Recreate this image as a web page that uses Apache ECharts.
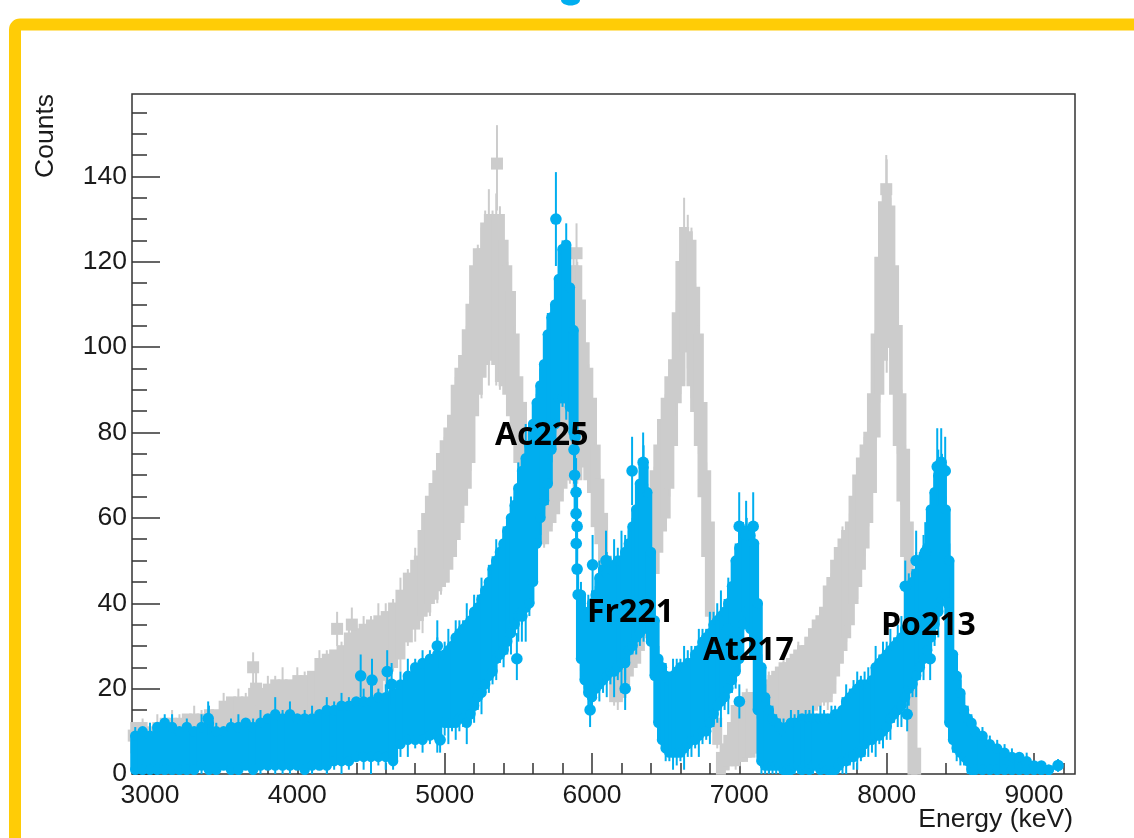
<!DOCTYPE html>
<html>
<head>
<meta charset="utf-8">
<style>html,body{margin:0;padding:0;background:#fff}#c{width:1134px;height:838px}</style>
<script src="https://cdn.jsdelivr.net/npm/echarts@6/dist/echarts.min.js"></script>
</head>
<body>
<div id="c"></div>
<script>
// [energy keV, band low, band high, error bar]
const grayBand = [
[2900,6,11,1],[2950,5,11,2],[3000,4,10,2],[3050,4,11,3],[3100,5,12,1],[3150,5,12,3],[3200,5,12,2],[3250,5,13,1],[3300,5,13,3],[3350,6,13,2],
[3400,6,14,2],[3450,6,14,1],[3500,7,16,3],[3550,7,17,1],[3600,7,17,3],[3650,8,17,2],[3700,8,19,1],[3750,8,19,2],[3800,8,20,3],[3850,9,21,2],
[3900,9,21,4],[3950,9,21,1],[4000,9,22,3],[4050,10,22,2],[4100,11,23,1],[4150,11,26,3],[4200,12,27,2],[4250,12,28,1],[4300,13,29,2],[4350,14,32,4],
[4400,14,33,2],[4450,15,34,3],[4500,16,35,2],[4550,20,36,4],[4600,23,37,3],[4650,26,39,2],[4700,28,42,4],[4750,32,46,2],[4800,35,49,4],
[4825,37,50,3],[4850,38,56,5],[4875,39,60,2],[4900,41,64,4],[4925,42,67,1],[4950,44,70,4],[4975,45,74,3],[5000,46,77,2],[5025,49,80,4],[5050,52,83,2],
[5075,56,90,3],[5100,60,94,1],[5125,64,97,4],[5150,68,103,2],[5175,74,109,3],[5200,85,118,1],[5225,90,122,2],[5250,94,122,6],[5275,97,128,4],[5300,98,130,7],
[5325,99,130,2],[5350,97,130,6],[5375,93,130,3],[5400,92,124,1],[5425,90,118,2],[5450,85,112,1],[5475,80,102,3],[5500,74,92,1],[5525,70,86,2],[5550,65,80,1],
[5575,62,76,2],[5600,58,73,1],[5625,55,72,2],[5650,55,72,1],[5675,55,74,2],[5700,58,80,2],[5725,60,88,2],[5750,62,95,1],[5775,65,102,2],[5800,68,108,2],
[5825,70,112,1],[5850,70,116,2],[5875,70,118,3],[5900,70,118,2],[5925,75,110,2],[5950,73,100,1],[5975,70,94,2],[6000,67,87,1],[6025,59,76,2],[6050,55,68,2],
[6075,50,60,1],[6100,38,50,2],[6125,24,40,3],[6150,18,30,2],[6175,18,28,3],[6200,19,26,2],[6225,22,30,1],[6250,24,34,2],[6275,26,38,1],[6300,27,42,2],
[6325,30,46,1],[6350,33,52,2],[6375,36,60,1],[6400,42,66,3],[6425,48,70,2],[6450,53,76,1],[6475,58,82,3],[6500,61,87,2],[6525,68,92,3],[6550,78,96,1],
[6575,88,107,4],[6600,92,119,3],[6625,100,127,8],[6650,100,126,5],[6675,92,124,4],[6700,86,113,2],[6725,78,102,3],[6750,66,86,1],[6775,52,70,3],[6800,38,58,2],
[6825,30,36,3],[6850,8,12,2],[6875,1,4,1],[6900,2,6,1],[6925,3,8,2],[6950,3,11,1],[6975,3,15,2],[7000,4,16,2],[7025,4,17,1],[7050,5,18,2],
[7075,5,18,1],[7100,6,18,2],[7125,6,18,2],[7150,7,18,1],[7175,8,20,2],[7200,10,21,3],[7225,10,22,1],[7250,11,23,2],[7275,11,24,1],[7300,12,25,3],
[7325,12,25,2],[7350,13,26,1],[7375,13,27,2],[7400,14,28,3],[7425,14,29,1],[7450,15,29,3],[7475,15,31,2],[7500,16,33,2],[7525,17,35,1],[7550,18,36,3],
[7575,18,38,2],[7600,18,43,3],[7625,20,45,2],[7650,24,49,3],[7675,27,52,1],[7700,30,54,4],[7725,33,56,2],[7750,36,58,3],[7775,41,64,1],[7800,45,69,4],
[7825,49,73,2],[7850,54,76,3],[7875,60,79,2],[7900,67,88,4],[7925,80,102,2],[7950,90,120,3],[7975,98,133,5],[8000,101,137,7],[8025,101,132,3],[8050,90,118,2],
[8075,78,104,3],[8100,65,88,2],[8125,52,75,2],[8150,20,58,2],[8175,1,30,1],[8200,1,5,1]
];
// [energy keV, count, error bar top, error bar bottom]
const grayPoints = [
[2890,9,12,6],[3700,25,28.5,21],[3720,20,24,16],[4270,34,38,30],[4370,35,39,31],[5355,143,152,132],[5895,122,129,115],[7997,137,145,129]
];
const blueBand = [
[2900,1,9,2],[2950,1,10,1],[3000,1,9,3],[3050,1,11,1],[3100,1,12,2],[3150,1,11,3],[3200,1,10,1],[3250,1,11,2],[3300,1,10,1],[3350,2,11,3],
[3400,1,12,4],[3450,1,10,2],[3500,2,10,1],[3550,1,11,2],[3600,1,11,3],[3650,2,12,1],[3700,1,11,2],[3750,2,12,3],[3800,2,13,1],[3850,2,14,4],
[3900,2,13,2],[3950,2,14,3],[4000,2,13,1],[4050,1,13,2],[4100,2,13,3],[4150,2,14,1],[4200,2,15,3],[4250,3,15,2],[4300,3,16,3],[4350,3,16,2],
[4400,4,17,1],[4450,4,17,3],[4500,4,17,4],[4550,4,18,2],[4600,4,18,3],[4650,3,19,2],[4700,7,21,3],[4750,8,23,4],[4800,8,25,2],[4850,8,26,3],
[4900,9,27,2],[4950,9,28,4],[5000,12,28,3],[5025,12,29,5],[5050,12,30,2],[5075,12,32,4],[5100,13,33,3],[5125,13,34,2],[5150,12,35,5],[5175,14,36,2],
[5200,16,38,4],[5225,18,39,3],[5250,19,41,5],[5275,21,43,2],[5300,23,45,4],[5325,24,48,3],[5350,27,50,5],[5375,28,52,2],[5400,29,54,4],[5425,31,57,3],
[5450,33,60,5],[5475,35,63,2],[5500,37,67,6],[5525,38,71,3],[5550,39,74,8],[5575,40,77,3],[5600,45,82,5],[5625,54,87,2],[5650,60,91,4],[5675,64,96,2],
[5700,68,103,5],[5725,76,107,3],[5750,82,110,2],[5775,88,116,1],[5800,88,123,2],[5825,88,124,5],[5850,86,114,1],[5875,80,104,2],[5925,27,42,3],[5950,22,37,2],
[5975,19,38,4],[6000,18,40,3],[6025,20,42,2],[6050,21,46,4],[6075,22,48,3],[6100,23,47,5],[6125,24,48,3],[6150,24,49,6],[6175,25,50,3],[6200,26,50,7],
[6225,26,52,4],[6250,29,54,3],[6275,30,58,2],[6300,32,62,4],[6325,33,68,3],[6350,36,72,5],[6375,34,66,2],[6400,31,52,2],[6425,23,36,1],[6450,12,27,3],
[6475,8,25,2],[6500,6,23,3],[6525,5,22,2],[6550,5,23,4],[6575,5,24,3],[6600,5,25,2],[6625,6,25,5],[6650,7,26,3],[6675,8,26,4],[6700,8,28,2],
[6725,9,29,5],[6750,10,31,3],[6775,10,32,2],[6800,12,33,5],[6825,14,35,3],[6850,16,36,4],[6875,17,37,6],[6900,18,38,3],[6925,20,40,6],[6950,22,44,3],
[6975,24,50,4],[7000,27,53,3],[7025,35,57,2],[7050,38,57,3],[7075,34,56,2],[7100,28,54,3],[7125,15,40,2],[7150,3,25,3],[7175,2,18,3],[7200,2,15,2],
[7225,2,13,3],[7250,2,12,2],[7275,2,11,2],[7300,1,10,3],[7325,1,11,1],[7350,1,12,3],[7375,2,12,2],[7400,2,12,3],[7425,1,13,1],[7450,2,12,3],
[7475,1,13,2],[7500,2,13,3],[7525,2,13,1],[7550,1,13,3],[7575,2,13,2],[7600,1,13,1],[7625,1,13,3],[7650,1,14,2],[7675,2,14,1],[7700,3,15,3],
[7725,3,17,4],[7750,4,18,2],[7775,4,19,3],[7800,5,20,4],[7825,5,21,2],[7850,7,21,3],[7875,8,21,4],[7900,8,22,3],[7925,9,25,5],[7950,9,26,2],
[7975,10,27,4],[8000,11,28,3],[8025,13,29,5],[8050,14,30,2],[8075,15,31,4],[8100,16,32,5],[8125,18,34,2],[8150,20,43,4],[8175,21,45,3],[8200,23,47,5],
[8225,25,49,3],[8250,27,51,5],[8275,29,53,3],[8300,32,62,4],[8325,35,66,5],[8350,38,70,6],[8375,41,72,3],[8400,42,62,3],[8425,12,50,4],[8450,8,28,3],
[8475,6,23,3],[8500,5,19,3],[8525,4,15,2],[8550,3,13,3],[8575,1,12,2],[8600,1,10,2],[8650,1,9,2],[8700,1,7,2],[8750,1,6,2],[8800,1,5,2],
[8850,1,4,2],[8900,1,4,1],[8950,1,3,2],[9000,1,2,1],[9050,1,2,1],[9100,1,1,1]
];
const bluePoints = [
[5755,130,141,119],[5885,79,87,71],[5878,76,84,68],[5882,70,78,62],[5892,66,74,58],[5892,61,69,53],[5899,58,66,50],[5893,54,61,47],[5899,48,55,41],[5906,42,49,35],
[5524,37,43,31],[5490,27,33,22],[5987,15,19,11],[6225,20,25,15],[6272,71,79,63],[6347,73,80,66],[6004,49,56,42],[6095,50,57,43],
[4969,8,11,5],[4430,23,28,18],[4507,22,27,17],[4610,24,29,19],[4640,21,26,16],[3395,13,17,9],[4950,30,36,25],
[6999,58,66,50],[7046,56,64,48],[7094,58,66,50],[6920,34,40,28],[7000,17,21,13],
[8126,44,50,38],[8139,14,18,10],[8200,50,57,43],[8262,52,59,45],[8295,27,32,22],[8343,72,81,63],[8370,73,81,65],[8397,71,79,63],[8417,40,46,34],[9163,2,3.5,0.5]
];
const xMajor = [3000,4000,5000,6000,7000,8000,9000];
const xMinor = [3200,3400,3600,3800,4200,4400,4600,4800,5200,5400,5600,5800,6200,6400,6600,6800,7200,7400,7600,7800,8200,8400,8600,8800,9200];
const yMajor = [0,20,40,60,80,100,120,140];
const yMinor = [5,10,15,25,30,35,45,50,55,65,70,75,85,90,95,105,110,115,125,130,135,145,150,155];
const peakLabels = [['Ac225',495,436],['Fr221',587,613],['At217',703,651],['Po213',881,626]];

const gray = '#CCCCCC', blue = '#00AEEF', axisC = '#333333', textC = '#1a1a1a';
const tickFont = {fontFamily:'Liberation Sans',fontSize:26.5,color:textC,formatter:function(v){return String(v);}};

function whisker(x,y1,y2,color,w){
  return {type:'line',shape:{x1:x,y1:y1,x2:x,y2:y2},style:{stroke:color,lineWidth:w}};
}
function bandItem(color,round){
  return function(p,api){
    const e=api.value(0),lo=api.value(1),hi=api.value(2),err=api.value(3);
    const x=api.coord([e,0])[0], yl=api.coord([e,lo])[1], yh=api.coord([e,hi])[1];
    const yt=api.coord([e,hi+err])[1], yb=api.coord([e,Math.max(0,lo-err)])[1];
    const kids=[whisker(x,yt,yb,color,2)];
    if(round){
      kids.push({type:'rect',shape:{x:x-5,y:yh,width:10,height:yl-yh},style:{fill:color}});
      kids.push({type:'circle',shape:{cx:x,cy:yh,r:5.2},style:{fill:color}});
      kids.push({type:'circle',shape:{cx:x,cy:yl,r:5.2},style:{fill:color}});
    }else{
      kids.push({type:'rect',shape:{x:x-5,y:yh-5,width:10,height:yl-yh+10},style:{fill:color}});
    }
    return {type:'group',children:kids};
  };
}
function pointItem(color,round){
  return function(p,api){
    const e=api.value(0),v=api.value(1);
    const x=api.coord([e,0])[0], y=api.coord([e,v])[1];
    const kids=[whisker(x,api.coord([e,api.value(2)])[1],api.coord([e,api.value(3)])[1],color,2)];
    kids.push(round?{type:'circle',shape:{cx:x,cy:y,r:5.8},style:{fill:color}}
                   :{type:'rect',shape:{x:x-6,y:y-6,width:12,height:12},style:{fill:color}});
    return {type:'group',children:kids};
  };
}
function customSeries(name,data,item,z){
  return {type:'custom',name:name,data:data,renderItem:item,clip:false,z:z,silent:true,
          xAxisIndex:0,yAxisIndex:0,encode:{x:0,y:[1,2]}};
}
const chart = echarts.init(document.getElementById('c'),null,{renderer:'canvas'});
const xBase = {type:'value',min:2878,max:9278,gridIndex:0,position:'bottom',splitLine:{show:false},axisLine:{show:false}};
const yBase = {type:'value',min:0,max:159.3,gridIndex:0,position:'left',splitLine:{show:false},axisLine:{show:false}};
chart.setOption({
  animation:false,
  backgroundColor:'#fff',
  grid:{left:132,top:94,width:943,height:680,show:true,borderColor:axisC,borderWidth:1.5,backgroundColor:'transparent',outerBoundsMode:'none'},
  xAxis:[
    Object.assign({},xBase,{name:'Energy (keV)',nameLocation:'end',nameGap:-2,nameMoveOverlap:false,
      nameTextStyle:{fontFamily:'Liberation Sans',fontSize:26.5,color:textC,align:'right',verticalAlign:'top',lineHeight:92},
      axisTick:{inside:true,length:21,lineStyle:{color:axisC,width:1.5},customValues:xMajor},
      axisLabel:Object.assign({margin:8,customValues:xMajor},tickFont)}),
    Object.assign({},xBase,{axisTick:{inside:true,length:11,lineStyle:{color:axisC,width:1.5},customValues:xMinor},
      axisLabel:{show:false}})
  ],
  yAxis:[
    Object.assign({},yBase,{name:'Counts',nameLocation:'end',nameRotate:90,nameGap:0,nameMoveOverlap:false,
      nameTextStyle:{fontFamily:'Liberation Sans',fontSize:26.5,color:textC,align:'right',verticalAlign:'bottom',lineHeight:172},
      axisTick:{inside:true,length:28,lineStyle:{color:axisC,width:1.5},customValues:yMajor},
      axisLabel:Object.assign({margin:5,customValues:yMajor},tickFont)}),
    Object.assign({},yBase,{axisTick:{inside:true,length:15,lineStyle:{color:axisC,width:1.5},customValues:yMinor},
      axisLabel:{show:false}})
  ],
  series:[
    customSeries('gray band',grayBand,bandItem(gray,false),2),
    customSeries('gray points',grayPoints,pointItem(gray,false),2),
    customSeries('blue band',blueBand,bandItem(blue,true),3),
    customSeries('blue points',bluePoints,pointItem(blue,true),3)
  ],
  graphic:[
    {type:'rect',z:1,silent:true,shape:{x:15,y:24.5,width:2000,height:2000,r:5},style:{fill:'transparent',stroke:'#FFCC06',lineWidth:12}},
    {type:'ellipse',z:1,silent:true,shape:{cx:570.5,cy:0,rx:9.5,ry:5.5},style:{fill:blue}}
  ].concat(peakLabels.map(function(l){
    return {type:'text',z:100,silent:true,x:l[1],y:l[2],
      style:{text:l[0],fontFamily:'Open Sans',fontWeight:'bold',fontSize:32,fill:'#000',textAlign:'left',textVerticalAlign:'middle'}};
  }))
});
</script>
</body>
</html>
